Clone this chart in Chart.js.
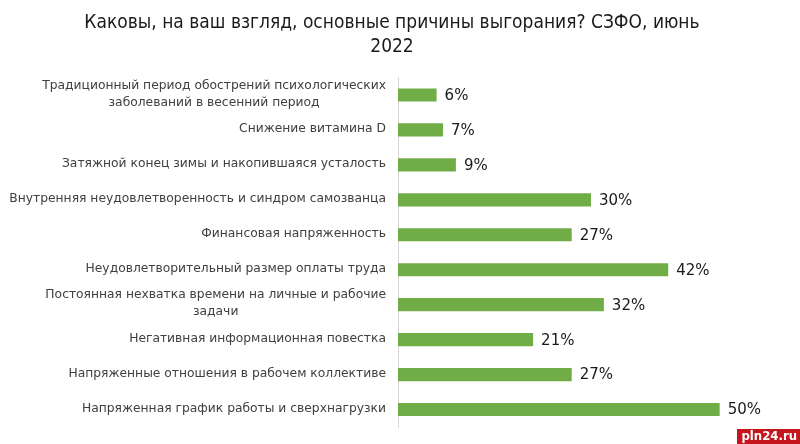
<!DOCTYPE html>
<html>
<head>
<meta charset="utf-8">
<script src="https://cdn.jsdelivr.net/npm/chart.js@4.4.0/dist/chart.umd.min.js"></script>
<style>
  body { margin: 0; background: #fff; }
  #wrap { position: relative; width: 800px; height: 444px; }
  #mark { position: absolute; right: 0; bottom: 0; background: #c4161c; color: #fff;
          font: bold 13px "DejaVu Sans Condensed", "DejaVu Sans", sans-serif; padding: 0 3px 1px 4px; line-height: 14px; }
</style>
</head>
<body>
<div id="wrap">
  <canvas id="chart" width="800" height="444"></canvas>
  <div id="mark">pln24.ru</div>
</div>
<script>
// Подписи категорий (многострочные — массивом)
const reasons = [
  ['Традиционный период обострений психологических', 'заболеваний в весенний период'],
  'Снижение витамина D',
  'Затяжной конец зимы и накопившаяся усталость',
  'Внутренняя неудовлетворенность и синдром самозванца',
  'Финансовая напряженность',
  'Неудовлетворительный размер оплаты труда',
  ['Постоянная нехватка времени на личные и рабочие', 'задачи'],
  'Негативная информационная повестка',
  'Напряженные отношения в рабочем коллективе',
  'Напряженная график работы и сверхнагрузки'
];
// Доля ответивших, %
const shares = [6, 7, 9, 30, 27, 42, 32, 21, 27, 50];

const titleLines = ['Каковы, на ваш взгляд, основные причины выгорания? СЗФО, июнь', '2022'];

// подписи категорий: блок прижат вправо, строки внутри блока по центру
const categoryLabels = {
  id: 'categoryLabels',
  afterDraw(chart) {
    const ctx = chart.ctx;
    const yScale = chart.scales.y;
    const right = yScale.right - 12;
    const lh = 17;
    ctx.save();
    ctx.font = '12.3px "DejaVu Sans", sans-serif';
    ctx.fillStyle = '#404040';
    ctx.textAlign = 'center';
    ctx.textBaseline = 'middle';
    chart.data.labels.forEach((lab, i) => {
      const lines = Array.isArray(lab) ? lab : [lab];
      const w = Math.max(...lines.map(l => ctx.measureText(l).width));
      const cx = right - w / 2;
      const y0 = yScale.getPixelForValue(i) - (lines.length - 1) * lh / 2 - 1;
      lines.forEach((l, k) => ctx.fillText(l, cx, y0 + k * lh));
    });
    ctx.restore();
  }
};

// подписи значений справа от столбцов
const valueLabels = {
  id: 'valueLabels',
  afterDatasetsDraw(chart) {
    const ctx = chart.ctx;
    const meta = chart.getDatasetMeta(0);
    ctx.save();
    ctx.font = '15px "DejaVu Sans", sans-serif';
    ctx.fillStyle = '#1a1a1a';
    ctx.textAlign = 'left';
    ctx.textBaseline = 'middle';
    meta.data.forEach((bar, i) => {
      ctx.fillText(shares[i] + '%', bar.x + 8, bar.y + 1);
    });
    ctx.restore();
  }
};

const ctx = document.getElementById('chart').getContext('2d');

new Chart(ctx, {
  type: 'bar',
  data: {
    labels: reasons,
    datasets: [{
      label: 'Доля',
      data: shares,
      backgroundColor: '#70ad47',
      barPercentage: 0.75,
      categoryPercentage: 0.5
    }]
  },
  options: {
    indexAxis: 'y',
    responsive: false,
    animation: false,
    layout: { padding: { top: 0, right: 16, bottom: 17, left: 0 } },
    plugins: {
      legend: { display: false },
      tooltip: { enabled: false },
      title: {
        display: true,
        text: titleLines,
        color: '#1a1a1a',
        font: { family: '"Liberation Sans Narrow", "DejaVu Sans Condensed", sans-serif', size: 19, weight: 'normal', lineHeight: 1.25 },
        padding: { top: 11, bottom: 19 }
      }
    },
    scales: {
      x: {
        display: false,
        min: 0,
        max: 60
      },
      y: {
        afterFit(scale) { scale.width = 398; },
        grid: { display: false },
        border: { display: true, color: '#d9d9d9', width: 1 },
        ticks: { display: false }
      }
    }
  },
  plugins: [valueLabels, categoryLabels]
});
</script>
</body>
</html>
